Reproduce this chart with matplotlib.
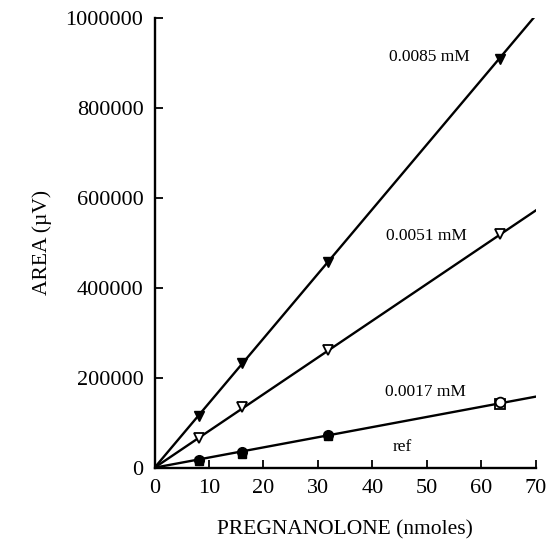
import numpy as np
import matplotlib
matplotlib.use("Agg")
from matplotlib import pyplot as plt

# amounts injected (nmoles) and measured peak areas (uV)
x_pts = [8.2, 16.0, 31.8, 63.5]
area_0085 = [115000, 232000, 458000, 910000]
area_0051 = [66000, 135000, 261000, 520000]
area_0017 = [18000, 34000, 73000, 145000]
area_ref = [14000, 30000, 70000, 142000]

# fitted lines (through origin)
fit_x = [0, 70]
fit_0085 = [0, 1006000]
fit_0051 = [0, 572000]
fit_0017 = [0, 158000]

labels = ['0.0085 mM', '0.0051 mM', '0.0017 mM', 'ref']
label_pos = [(50.5, 913000), (50.0, 516000), (49.8, 169000), (45.5, 47000)]

plt.rcParams['font.family'] = ['Liberation Serif', 'DejaVu Serif']

fig = plt.figure(figsize=(5.54, 5.47), dpi=100)
ax = fig.add_axes([0.279, 0.145, 0.688, 0.822])

ax.plot(fit_x, fit_0085, color='black', lw=1.7)
ax.plot(fit_x, fit_0051, color='black', lw=1.7)
ax.plot(fit_x, fit_0017, color='black', lw=1.7)

ax.plot(x_pts, area_0085, 'v', color='black', ms=7, ls='none')
ax.plot(x_pts, area_0051, 'v', mfc='white', mec='black', mew=1.3, ms=7, ls='none')
ax.plot(x_pts[:3], area_ref[:3], 's', color='black', ms=6, ls='none')
ax.plot(x_pts[:3], area_0017[:3], 'o', color='black', ms=7, ls='none')
ax.plot(x_pts[3:], area_ref[3:], 's', mfc='white', mec='black', mew=1.3, ms=7, ls='none')
ax.plot(x_pts[3:], area_0017[3:], 'o', mfc='white', mec='black', mew=1.3, ms=7, ls='none')

for txt, (tx, ty) in zip(labels, label_pos):
    ax.text(tx, ty, txt, fontsize=12.5, ha='center', va='center')

ax.set_xlim(0, 70)
ax.set_ylim(0, 1000000)
ax.set_xticks(np.arange(0, 71, 10))
ax.set_yticks(np.arange(0, 1000001, 200000))
ax.set_yticklabels([str(v) for v in range(0, 1000001, 200000)])
ax.tick_params(direction='in', length=6, width=1.3, labelsize=16, pad=8)
ax.spines['top'].set_visible(False)
ax.spines['right'].set_visible(False)
ax.spines['left'].set_linewidth(1.7)
ax.spines['bottom'].set_linewidth(1.7)

ax.set_xlabel('PREGNANOLONE (nmoles)', fontsize=15.5, labelpad=16)
ax.set_ylabel('AREA (\u00b5V)', fontsize=15.5, labelpad=10)

fig.savefig('out.png', dpi=100)
